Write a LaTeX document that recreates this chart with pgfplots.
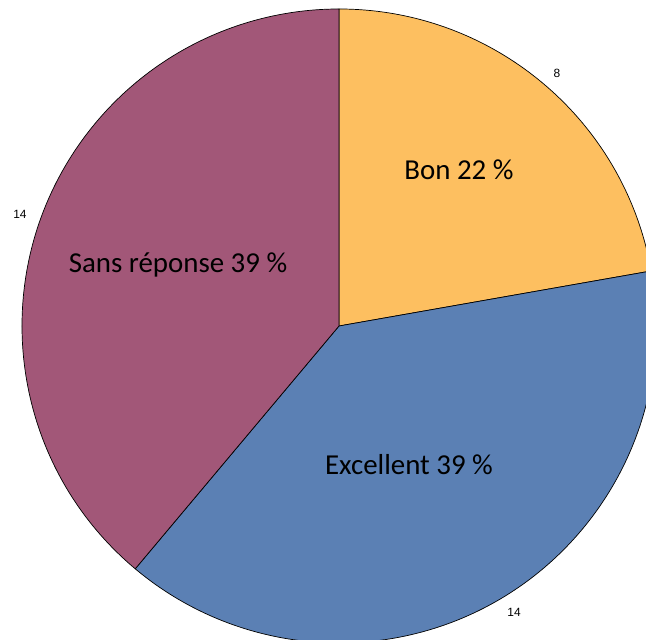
\documentclass[border=0pt]{standalone}
\usepackage{pgfplots}
\usepackage{pgfplotstable}
\pgfplotsset{compat=1.18}
\usepackage{fontspec}
\setmainfont{Carlito}
\newfontfamily\arial{Liberation Sans}

\definecolor{bon}{HTML}{FDBF60}
\definecolor{exc}{HTML}{5B80B4}
\definecolor{sans}{HTML}{A25778}

\pgfplotstableread{
n
8
14
14
}\piedata

\begin{document}
\begin{tikzpicture}
% angles from the counts (clockwise from 12 o'clock)
\pgfplotstablegetelem{0}{n}\of\piedata \let\vA\pgfplotsretval
\pgfplotstablegetelem{1}{n}\of\piedata \let\vB\pgfplotsretval
\pgfplotstablegetelem{2}{n}\of\piedata \let\vC\pgfplotsretval
\pgfmathsetmacro\tot{\vA+\vB+\vC}
\pgfmathsetmacro\aA{90}
\pgfmathsetmacro\aB{\aA-360*\vA/\tot}
\pgfmathsetmacro\aC{\aB-360*\vB/\tot}
\pgfmathsetmacro\aD{\aC-360*\vC/\tot}
\begin{axis}[
    scale only axis,
    width=646bp, height=640bp,
    xmin=0, xmax=646, ymin=0, ymax=640,
    hide axis, clip=true,
]
\filldraw[fill=bon, draw=black, line width=0.7bp]
    (axis cs:339,314) -- ++(\aA:317bp) arc[start angle=\aA, end angle=\aB, radius=317bp] -- cycle;
\filldraw[fill=exc, draw=black, line width=0.7bp]
    (axis cs:339,314) -- ++(\aB:317bp) arc[start angle=\aB, end angle=\aC, radius=317bp] -- cycle;
\filldraw[fill=sans, draw=black, line width=0.7bp]
    (axis cs:339,314) -- ++(\aC:317bp) arc[start angle=\aC, end angle=\aD, radius=317bp] -- cycle;

\node[font=\fontsize{29}{32}\selectfont] at (axis cs:459,470) {Bon 22 \%};
\node[font=\fontsize{29}{32}\selectfont] at (axis cs:409,175) {Excellent 39 \%};
\node[font=\fontsize{29}{32}\selectfont] at (axis cs:178,375) {Sans réponse 39 \%};

\node[font=\arial\fontsize{12}{14}\selectfont] at (axis cs:557,567) {8};
\node[font=\arial\fontsize{12}{14}\selectfont] at (axis cs:20,426) {14};
\node[font=\arial\fontsize{12}{14}\selectfont] at (axis cs:514,28) {14};

\coordinate (sw) at (axis cs:0,0);
\coordinate (ne) at (axis cs:646,640);
\end{axis}
\pgfresetboundingbox
\useasboundingbox (sw) rectangle (ne);
\end{tikzpicture}
\end{document}
